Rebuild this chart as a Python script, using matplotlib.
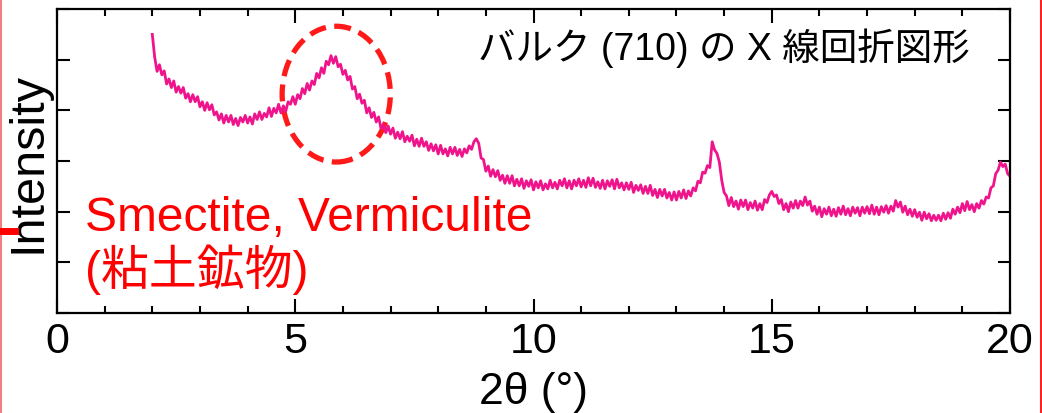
import numpy as np
import matplotlib
matplotlib.use("Agg")
import matplotlib.pyplot as plt
from matplotlib.patches import Ellipse
from matplotlib.lines import Line2D

plt.rcParams['font.family'] = ['Liberation Sans', 'Noto Sans CJK JP', 'DejaVu Sans']

# XRD pattern, 2theta from 2 to 20 deg, step 0.05
theta_start, theta_stop = 2.0, 20.0
intensity = [
    5.50, 5.05, 4.77, 4.90, 4.70, 4.78, 4.52, 4.62, 4.45, 4.58,  # 2.0
    4.36, 4.47, 4.34, 4.45, 4.24, 4.33, 4.17, 4.31, 4.17, 4.27,  # 2.5
    4.07, 4.17, 4.00, 4.15, 4.01, 4.11, 3.91, 3.97, 3.81, 3.93,  # 3.0
    3.75, 3.90, 3.77, 3.90, 3.72, 3.84, 3.70, 3.86, 3.77, 3.90,  # 3.5
    3.75, 3.87, 3.73, 3.93, 3.82, 3.97, 3.82, 3.94, 3.87, 4.05,  # 4.0
    3.88, 4.04, 3.95, 4.12, 3.95, 4.09, 3.98, 4.17, 4.12, 4.27,  # 4.5
    4.12, 4.31, 4.23, 4.43, 4.33, 4.53, 4.40, 4.58, 4.51, 4.73,  # 5.0
    4.64, 4.84, 4.73, 4.97, 4.90, 5.08, 4.93, 5.06, 4.86, 4.91,  # 5.5
    4.71, 4.79, 4.60, 4.67, 4.42, 4.47, 4.23, 4.32, 4.14, 4.20,  # 6.0
    3.95, 4.05, 3.86, 3.96, 3.77, 3.87, 3.64, 3.72, 3.56, 3.69,  # 6.5
    3.53, 3.65, 3.45, 3.57, 3.44, 3.58, 3.38, 3.49, 3.39, 3.51,  # 7.0
    3.30, 3.43, 3.29, 3.45, 3.29, 3.38, 3.21, 3.34, 3.20, 3.32,  # 7.5
    3.14, 3.31, 3.14, 3.24, 3.10, 3.27, 3.14, 3.27, 3.11, 3.23,  # 8.0
    3.09, 3.24, 3.16, 3.30, 3.23, 3.38, 3.44, 3.35, 3.06, 3.03,  # 8.5
    2.80, 2.90, 2.70, 2.83, 2.69, 2.81, 2.62, 2.72, 2.56, 2.71,  # 9.0
    2.56, 2.71, 2.51, 2.64, 2.51, 2.65, 2.46, 2.61, 2.50, 2.63,  # 9.5
    2.43, 2.59, 2.47, 2.61, 2.43, 2.55, 2.45, 2.62, 2.47, 2.58,  # 10.0
    2.45, 2.62, 2.51, 2.65, 2.47, 2.61, 2.45, 2.62, 2.51, 2.65,  # 10.5
    2.49, 2.62, 2.48, 2.67, 2.51, 2.66, 2.48, 2.59, 2.46, 2.62,  # 11.0
    2.45, 2.61, 2.50, 2.63, 2.45, 2.64, 2.47, 2.57, 2.43, 2.57,  # 11.5
    2.44, 2.58, 2.38, 2.52, 2.42, 2.53, 2.36, 2.50, 2.36, 2.52,  # 12.0
    2.32, 2.44, 2.28, 2.44, 2.31, 2.44, 2.27, 2.38, 2.23, 2.39,  # 12.5
    2.23, 2.40, 2.27, 2.43, 2.26, 2.41, 2.31, 2.47, 2.41, 2.60,  # 13.0
    2.57, 2.78, 2.76, 2.91, 2.87, 3.38, 3.22, 3.15, 2.98, 2.62,  # 13.5
    2.38, 2.31, 2.12, 2.28, 2.10, 2.21, 2.05, 2.23, 2.10, 2.23,  # 14.0
    2.04, 2.18, 2.07, 2.21, 2.03, 2.16, 2.04, 2.24, 2.18, 2.33,  # 14.5
    2.40, 2.30, 2.33, 2.16, 2.24, 2.04, 2.16, 2.00, 2.19, 2.07,  # 15.0
    2.22, 2.07, 2.21, 2.12, 2.29, 2.13, 2.21, 2.01, 2.11, 1.95,  # 15.5
    2.09, 1.90, 2.06, 1.95, 2.09, 1.92, 2.05, 1.91, 2.08, 1.95,  # 16.0
    2.11, 1.94, 2.06, 1.92, 2.09, 1.97, 2.08, 1.92, 2.09, 1.97,  # 16.5
    2.10, 1.96, 2.13, 1.95, 2.09, 1.94, 2.10, 1.99, 2.12, 1.97,  # 17.0
    2.11, 2.01, 2.22, 2.09, 2.19, 1.99, 2.11, 1.94, 2.05, 1.91,  # 17.5
    2.04, 1.89, 1.99, 1.83, 1.99, 1.86, 1.96, 1.82, 1.93, 1.83,  # 18.0
    1.93, 1.82, 1.97, 1.85, 1.98, 1.87, 2.05, 1.95, 2.09, 1.98,  # 18.5
    2.16, 2.02, 2.20, 2.04, 2.14, 2.00, 2.16, 2.07, 2.22, 2.15,  # 19.0
    2.29, 2.27, 2.47, 2.51, 2.75, 2.82, 2.98, 2.89, 2.94, 2.75,  # 19.5
    2.70,
]
two_theta = np.linspace(theta_start, theta_stop, len(intensity))

title_text = "バルク (710) の X 線回折図形"
clay_text = "Smectite, Vermiculite\n(粘土鉱物)"
# dashed ellipse around the clay peak (centre, width, height in data units)
clay_center = (5.86, 4.32)
clay_size = (2.27, 2.68)

fig = plt.figure(figsize=(10.42, 4.14), dpi=100)
ax = fig.add_axes([0.0547, 0.2415, 0.9146, 0.7343])

ax.plot(two_theta, intensity, color='#f0148c', lw=2.0)

ax.add_patch(Ellipse(clay_center, clay_size[0], clay_size[1], fill=False,
                     edgecolor='#ff1a1a', lw=3.8, linestyle=(0, (3.2, 1.6))))

ax.text(0.442, 0.875, title_text, transform=ax.transAxes, fontsize=27,
        va='center', ha='left', color='black')
ax.text(0.029, 0.225, clay_text, transform=ax.transAxes, fontsize=34.5,
        va='center', ha='left', color='#ff0000', linespacing=1.1)

ax.set_xlim(0, 20)
ax.set_ylim(0, 6)
ax.set_xticks([0, 5, 10, 15, 20])
ax.set_xticks(np.arange(0, 21, 1), minor=True)
ax.set_yticks(np.arange(0, 7, 1))
ax.set_yticklabels([])
ax.tick_params(axis='both', which='both', direction='in', top=True, right=True,
               width=1.5, labelsize=31, colors='black')
ax.tick_params(axis='x', which='major', length=10, pad=6)
ax.tick_params(axis='x', which='minor', length=5)
ax.tick_params(axis='y', which='major', length=9)
for s in ax.spines.values():
    s.set_linewidth(1.6)

ax.set_xlabel("2θ (°)", fontsize=32, labelpad=7)
ax.set_ylabel("Intensity", fontsize=35, labelpad=1)

# screenshot border bits
fig.add_artist(Line2D([0.0005, 0.0005], [0, 1], color='#f08080', lw=1.5))
fig.add_artist(Line2D([0.999, 0.999], [0, 1], color='#ff2020', lw=1.5))
fig.add_artist(Line2D([0.0, 0.014], [0.44, 0.44], color='#ff0000', lw=5))

fig.savefig("out.png", dpi=100)
